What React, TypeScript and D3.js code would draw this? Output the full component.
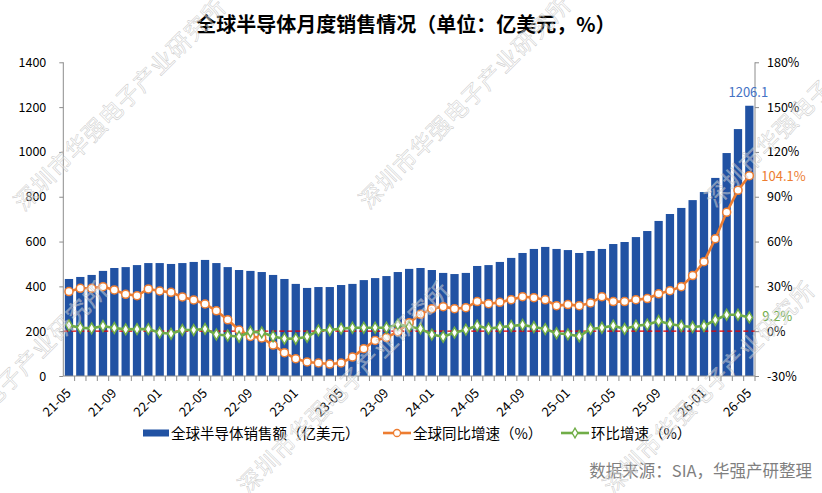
import React, { useEffect, useRef } from "react";
import * as d3 from "d3";

const MONTHS = [
  "21-05", "21-06", "21-07", "21-08", "21-09", "21-10", "21-11", "21-12",
  "22-01", "22-02", "22-03", "22-04", "22-05", "22-06", "22-07", "22-08",
  "22-09", "22-10", "22-11", "22-12", "23-01", "23-02", "23-03", "23-04",
  "23-05", "23-06", "23-07", "23-08", "23-09", "23-10", "23-11", "23-12",
  "24-01", "24-02", "24-03", "24-04", "24-05", "24-06", "24-07", "24-08",
  "24-09", "24-10", "24-11", "24-12", "25-01", "25-02", "25-03", "25-04",
  "25-05", "25-06", "25-07", "25-08", "25-09", "25-10", "25-11", "25-12",
  "26-01", "26-02", "26-03", "26-04", "26-05",
];
const TICK_LABELS = [
  "21-05", "21-09", "22-01", "22-05", "22-09", "23-01", "23-05", "23-09",
  "24-01", "24-05", "24-09", "25-01", "25-05", "25-09", "26-01", "26-05",
];
// 全球半导体销售额（亿美元）
const SALES = [
  433, 442, 451, 469, 482, 486, 495, 504, 504, 500, 504, 509, 518, 504, 486,
  473, 469, 464, 451, 433, 411, 393, 397, 397, 406, 411, 428, 437, 446, 464,
  478, 482, 473, 460, 455, 460, 491, 495, 509, 527, 549, 567, 576, 567, 562,
  549, 558, 567, 589, 598, 620, 647, 692, 723, 750, 785, 821, 884, 995, 1102,
  1206.1,
];
// 全球同比增速（%）
const YOY = [
  26.5, 28.7, 28.7, 29.8, 27.6, 24.7, 23.8, 28.3, 26.9, 26.0, 22.9, 20.9, 18.2,
  13.6, 7.6, 0.8, -3.5, -4.5, -9.3, -14.4, -18.4, -20.6, -21.3, -22.0, -21.3,
  -17.3, -11.7, -6.2, -4.3, -0.3, 5.7, 11.3, 15.1, 16.4, 15.1, 15.7, 19.8,
  18.4, 19.3, 21.1, 23.1, 22.4, 21.0, 17.1, 17.8, 17.1, 18.9, 23.1, 19.8, 19.8,
  21.1, 21.8, 25.0, 27.1, 29.8, 37.2, 46.5, 61.9, 79.6, 94.3, 104.1,
];
// 环比增速（%）
const MOM = [
  3.9, 2.3, 1.9, 3.5, 2.1, 1.2, 1.4, 1.4, -1.0, -1.7, 0.8, 0.8, 1.5, -2.2,
  -2.9, -3.7, -0.4, -0.8, -3.5, -5.0, -5.1, -3.7, 0.5, 0.8, 1.7, 2.3, 2.3, 2.3,
  2.3, 4.4, 3.0, 1.7, -2.3, -3.7, -1.0, 1.0, 3.7, 1.7, 2.6, 3.5, 4.2, 2.8, 1.4,
  -1.4, -2.1, -3.4, 1.5, 2.3, 3.7, 1.5, 3.7, 4.4, 6.8, 4.8, 3.5, 2.8, 3.5, 7.5,
  11.0, 11.0, 9.2,
];
const LEFT_TICKS = [0, 200, 400, 600, 800, 1000, 1200, 1400];
const RIGHT_TICKS = [-30, 0, 30, 60, 90, 120, 150, 180];
const LEGEND = ["全球半导体销售额（亿美元）", "全球同比增速（%）", "环比增速（%）"];
const WATERMARK = "深圳市华强电子产业研究所";

const W = 822;
const H = 493;
const FONT = "'Noto Sans CJK SC', 'Liberation Sans', sans-serif";
const BLUE = "#2152A3";
const ORANGE = "#ED7D31";
const GREEN = "#70AD47";
const AXIS = "#8c8c8c";

export default function App() {
  const ref = useRef<SVGSVGElement>(null);

  useEffect(() => {
    document.body.style.margin = "0";
    if (!ref.current) return;
    const svg = d3.select(ref.current);
    svg.selectAll("*").remove();

    const left = 63.3, right = 755, top = 62.3, bottom = 376;

    const x = d3
      .scaleBand()
      .domain(MONTHS)
      .range([left, right])
      .paddingInner(0.27)
      .paddingOuter(0.135);
    const cx = (m: string) => (x(m) as number) + x.bandwidth() / 2;
    const step = x.step();

    const y = d3.scaleLinear().domain([0, 1400]).range([bottom, top]);
    const y2 = d3.scaleLinear().domain([-30, 180]).range([bottom, top]);

    // title
    svg
      .append("text")
      .attr("x", 406)
      .attr("y", 32)
      .attr("text-anchor", "middle")
      .style("font-family", FONT)
      .style("font-size", "20px")
      .style("font-weight", "bold")
      .attr("fill", "#000")
      .text("全球半导体月度销售情况（单位：亿美元，%）");

    // bars
    svg
      .append("g")
      .selectAll("rect")
      .data(SALES)
      .enter()
      .append("rect")
      .attr("x", (d, i) => x(MONTHS[i]) as number)
      .attr("y", (d) => y(d))
      .attr("width", x.bandwidth())
      .attr("height", (d) => bottom - y(d))
      .attr("fill", BLUE);

    // zero line for percentage axis
    svg
      .append("line")
      .attr("x1", left)
      .attr("x2", right)
      .attr("y1", y2(0))
      .attr("y2", y2(0))
      .attr("stroke", "#E00000")
      .attr("stroke-width", 1.2)
      .attr("stroke-dasharray", "5,3");

    // left axis
    const gl = svg.append("g").attr("transform", `translate(${left},0)`);
    gl.call(
      d3
        .axisLeft(y)
        .tickValues(LEFT_TICKS)
        .tickSize(4)
        .tickPadding(13)
        .tickFormat((d) => String(d)),
    );
    // right axis
    const gr = svg.append("g").attr("transform", `translate(${right},0)`);
    gr.call(
      d3
        .axisRight(y2)
        .tickValues(RIGHT_TICKS)
        .tickSize(4)
        .tickPadding(8)
        .tickFormat((d) => d + "%"),
    );
    // bottom axis: ticks on category boundaries
    const gb = svg.append("g").attr("transform", `translate(0,${bottom})`);
    gb.append("line")
      .attr("x1", left)
      .attr("x2", right)
      .attr("stroke", AXIS);
    gb.selectAll("line.tk")
      .data(MONTHS)
      .enter()
      .append("line")
      .attr("class", "tk")
      .attr("x1", (d) => cx(d) + step / 2)
      .attr("x2", (d) => cx(d) + step / 2)
      .attr("y1", 0)
      .attr("y2", 5)
      .attr("stroke", AXIS);
    gb.selectAll("text")
      .data(TICK_LABELS)
      .enter()
      .append("text")
      .attr("transform", (d) => `translate(${cx(d) + 3},18) rotate(-45)`)
      .attr("text-anchor", "end")
      .style("font-family", FONT)
      .style("font-size", "13px")
      .attr("fill", "#000")
      .text((d) => d);

    [gl, gr].forEach((g) => {
      g.selectAll("path,line").attr("stroke", AXIS);
      g.selectAll("text")
        .style("font-family", FONT)
        .style("font-size", "12.5px")
        .attr("fill", "#000");
    });
    gl.select(".domain").attr("d", `M-0,${top}V${bottom}`);
    gr.select(".domain").attr("d", `M0,${top}V${bottom}`);

    // YoY line
    const lineYoy = d3
      .line<number>()
      .x((d, i) => cx(MONTHS[i]))
      .y((d) => y2(d));
    svg
      .append("path")
      .datum(YOY)
      .attr("d", lineYoy)
      .attr("fill", "none")
      .attr("stroke", ORANGE)
      .attr("stroke-width", 2.6);
    svg
      .append("g")
      .selectAll("circle")
      .data(YOY)
      .enter()
      .append("circle")
      .attr("cx", (d, i) => cx(MONTHS[i]))
      .attr("cy", (d) => y2(d))
      .attr("r", 4)
      .attr("fill", "#fff")
      .attr("stroke", ORANGE)
      .attr("stroke-width", 1.5);

    // MoM line
    svg
      .append("path")
      .datum(MOM)
      .attr("d", lineYoy)
      .attr("fill", "none")
      .attr("stroke", GREEN)
      .attr("stroke-width", 2.6);
    const diamond = d3.symbol().type(d3.symbolDiamond).size(34);
    svg
      .append("g")
      .selectAll("path")
      .data(MOM)
      .enter()
      .append("path")
      .attr("d", diamond)
      .attr("transform", (d, i) => `translate(${cx(MONTHS[i])},${y2(d)})`)
      .attr("fill", "#fff")
      .attr("stroke", GREEN)
      .attr("stroke-width", 1.5);

    // data labels for last point
    const last = MONTHS[MONTHS.length - 1];
    const lab = (tx, ty, anchor, color, txt) =>
      svg
        .append("text")
        .attr("x", tx)
        .attr("y", ty)
        .attr("text-anchor", anchor)
        .style("font-family", FONT)
        .style("font-size", "13px")
        .attr("fill", color)
        .text(txt);
    lab(cx(last) - 1, y(SALES[SALES.length - 1]) - 9, "middle", "#4472C4", SALES[SALES.length - 1].toFixed(1));
    lab(cx(last) + 12, y2(YOY[YOY.length - 1]) + 5, "start", ORANGE, YOY[YOY.length - 1].toFixed(1) + "%");
    lab(cx(last) + 13, y2(MOM[MOM.length - 1]) + 4, "start", GREEN, MOM[MOM.length - 1].toFixed(1) + "%");

    // legend
    const ly = 433;
    const lg = svg.append("g").style("font-family", FONT).style("font-size", "14.5px");
    lg.append("rect").attr("x", 143).attr("y", ly - 3.5).attr("width", 26).attr("height", 7).attr("fill", BLUE);
    lg.append("text").attr("x", 171).attr("y", ly + 5.5).text(LEGEND[0]);
    lg.append("line").attr("x1", 383).attr("x2", 411).attr("y1", ly).attr("y2", ly).attr("stroke", ORANGE).attr("stroke-width", 2.6);
    lg.append("circle").attr("cx", 397).attr("cy", ly).attr("r", 3.5).attr("fill", "#fff").attr("stroke", ORANGE).attr("stroke-width", 1.3);
    lg.append("text").attr("x", 413).attr("y", ly + 5.5).text(LEGEND[1]);
    lg.append("line").attr("x1", 561).attr("x2", 589).attr("y1", ly).attr("y2", ly).attr("stroke", GREEN).attr("stroke-width", 2.6);
    lg.append("path").attr("d", d3.symbol().type(d3.symbolDiamond).size(28)).attr("transform", `translate(575,${ly})`).attr("fill", "#fff").attr("stroke", GREEN).attr("stroke-width", 1.3);
    lg.append("text").attr("x", 591).attr("y", ly + 5.5).text(LEGEND[2]);

    // source
    svg
      .append("text")
      .attr("x", 812)
      .attr("y", 477)
      .attr("text-anchor", "end")
      .style("font-family", FONT)
      .style("font-size", "16.5px")
      .attr("fill", "#7f7f7f")
      .text("数据来源：SIA，华强产研整理");

    // watermark
    const marks = [
      [36, 202], [381, 200], [727, 198],
      [-82, 485], [260, 485], [625, 485],
    ];
    svg
      .append("g")
      .selectAll("text")
      .data(marks)
      .enter()
      .append("text")
      .attr("transform", (d) => `translate(${d[0] - 12},${d[1] + 10}) rotate(-45)`)
      .style("font-family", FONT)
      .style("font-size", "23px")
      .attr("letter-spacing", "1px")
      .attr("fill", "rgba(255,255,255,0.4)")
      .attr("stroke", "rgba(175,175,175,0.6)")
      .attr("stroke-width", 0.6)
      .text(WATERMARK);
  }, []);

  return <svg ref={ref} width={W} height={H} style={{ display: "block", background: "#fff" }} />;
}
